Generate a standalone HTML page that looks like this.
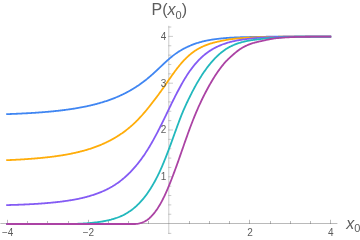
<!DOCTYPE html>
<html><head><meta charset="utf-8"><title>P(x0)</title>
<style>html,body{margin:0;padding:0;background:#fff}svg{display:block}text{font-family:"Liberation Sans",sans-serif;fill:#5c5c5c}</style></head><body>
<svg width="360" height="240" viewBox="0 0 360 240">
<rect width="360" height="240" fill="#fff"/>
<g stroke="#666" stroke-width="1" fill="none" stroke-opacity="0.45" shape-rendering="auto">
<line x1="0.4" y1="223.50" x2="337.4" y2="223.50"/>
<line x1="168.80" y1="25.8" x2="168.80" y2="234.0" stroke-width="0.75"/>
<line x1="7.50" y1="224.00" x2="7.50" y2="219.80"/>
<line x1="27.50" y1="224.00" x2="27.50" y2="221.00"/>
<line x1="47.50" y1="224.00" x2="47.50" y2="221.00"/>
<line x1="68.50" y1="224.00" x2="68.50" y2="221.00"/>
<line x1="88.50" y1="224.00" x2="88.50" y2="219.80"/>
<line x1="108.50" y1="224.00" x2="108.50" y2="221.00"/>
<line x1="128.50" y1="224.00" x2="128.50" y2="221.00"/>
<line x1="148.50" y1="224.00" x2="148.50" y2="221.00"/>
<line x1="189.50" y1="224.00" x2="189.50" y2="221.00"/>
<line x1="209.50" y1="224.00" x2="209.50" y2="221.00"/>
<line x1="229.50" y1="224.00" x2="229.50" y2="221.00"/>
<line x1="249.50" y1="224.00" x2="249.50" y2="219.80"/>
<line x1="270.50" y1="224.00" x2="270.50" y2="221.00"/>
<line x1="290.50" y1="224.00" x2="290.50" y2="221.00"/>
<line x1="310.50" y1="224.00" x2="310.50" y2="221.00"/>
<line x1="330.50" y1="224.00" x2="330.50" y2="219.80"/>
<line x1="168.40" y1="233.40" x2="171.30" y2="233.40" stroke-width="0.75"/>
<line x1="168.40" y1="214.24" x2="171.30" y2="214.24" stroke-width="0.75"/>
<line x1="168.40" y1="204.88" x2="171.30" y2="204.88" stroke-width="0.75"/>
<line x1="168.40" y1="195.52" x2="171.30" y2="195.52" stroke-width="0.75"/>
<line x1="168.40" y1="186.16" x2="171.30" y2="186.16" stroke-width="0.75"/>
<line x1="168.40" y1="176.80" x2="173.00" y2="176.80" stroke-width="0.75"/>
<line x1="168.40" y1="167.44" x2="171.30" y2="167.44" stroke-width="0.75"/>
<line x1="168.40" y1="158.08" x2="171.30" y2="158.08" stroke-width="0.75"/>
<line x1="168.40" y1="148.72" x2="171.30" y2="148.72" stroke-width="0.75"/>
<line x1="168.40" y1="139.36" x2="171.30" y2="139.36" stroke-width="0.75"/>
<line x1="168.40" y1="130.00" x2="173.00" y2="130.00" stroke-width="0.75"/>
<line x1="168.40" y1="120.64" x2="171.30" y2="120.64" stroke-width="0.75"/>
<line x1="168.40" y1="111.28" x2="171.30" y2="111.28" stroke-width="0.75"/>
<line x1="168.40" y1="101.92" x2="171.30" y2="101.92" stroke-width="0.75"/>
<line x1="168.40" y1="92.56" x2="171.30" y2="92.56" stroke-width="0.75"/>
<line x1="168.40" y1="83.20" x2="173.00" y2="83.20" stroke-width="0.75"/>
<line x1="168.40" y1="73.84" x2="171.30" y2="73.84" stroke-width="0.75"/>
<line x1="168.40" y1="64.48" x2="171.30" y2="64.48" stroke-width="0.75"/>
<line x1="168.40" y1="55.12" x2="171.30" y2="55.12" stroke-width="0.75"/>
<line x1="168.40" y1="45.76" x2="171.30" y2="45.76" stroke-width="0.75"/>
<line x1="168.40" y1="36.40" x2="173.00" y2="36.40" stroke-width="0.75"/>
<line x1="168.40" y1="27.04" x2="171.30" y2="27.04" stroke-width="0.75"/>
</g>
<path d="M7.10 114.13 L7.77 114.10 L8.45 114.08 L9.12 114.05 L9.80 114.03 L10.47 114.00 L11.15 113.98 L11.82 113.95 L12.50 113.93 L13.17 113.90 L13.85 113.87 L14.52 113.84 L15.20 113.81 L15.87 113.79 L16.55 113.76 L17.22 113.73 L17.90 113.70 L18.57 113.67 L19.25 113.64 L19.92 113.60 L20.59 113.57 L21.27 113.54 L21.94 113.51 L22.62 113.47 L23.29 113.44 L23.97 113.41 L24.64 113.37 L25.32 113.34 L25.99 113.30 L26.67 113.26 L27.34 113.23 L28.02 113.19 L28.69 113.15 L29.37 113.11 L30.04 113.07 L30.72 113.03 L31.39 112.99 L32.07 112.95 L32.74 112.91 L33.41 112.86 L34.09 112.82 L34.76 112.78 L35.44 112.73 L36.11 112.69 L36.79 112.64 L37.46 112.59 L38.14 112.55 L38.81 112.50 L39.49 112.45 L40.16 112.40 L40.84 112.35 L41.51 112.30 L42.19 112.25 L42.86 112.19 L43.54 112.14 L44.21 112.08 L44.89 112.03 L45.56 111.97 L46.23 111.92 L46.91 111.86 L47.58 111.80 L48.26 111.74 L48.93 111.68 L49.61 111.62 L50.28 111.55 L50.96 111.49 L51.63 111.43 L52.31 111.36 L52.98 111.30 L53.66 111.23 L54.33 111.16 L55.01 111.09 L55.68 111.02 L56.36 110.95 L57.03 110.87 L57.71 110.80 L58.38 110.73 L59.05 110.65 L59.73 110.57 L60.40 110.49 L61.08 110.41 L61.75 110.33 L62.43 110.25 L63.10 110.17 L63.78 110.08 L64.45 110.00 L65.13 109.91 L65.80 109.82 L66.48 109.73 L67.15 109.64 L67.83 109.54 L68.50 109.45 L69.18 109.35 L69.85 109.26 L70.53 109.16 L71.20 109.06 L71.87 108.95 L72.55 108.85 L73.22 108.75 L73.90 108.64 L74.57 108.53 L75.25 108.42 L75.92 108.31 L76.60 108.20 L77.27 108.08 L77.95 107.96 L78.62 107.84 L79.30 107.72 L79.97 107.60 L80.65 107.48 L81.32 107.35 L82.00 107.22 L82.67 107.09 L83.35 106.96 L84.02 106.83 L84.69 106.69 L85.37 106.55 L86.04 106.41 L86.72 106.27 L87.39 106.12 L88.07 105.98 L88.74 105.83 L89.42 105.68 L90.09 105.52 L90.77 105.37 L91.44 105.21 L92.12 105.05 L92.79 104.88 L93.47 104.72 L94.14 104.55 L94.82 104.37 L95.49 104.20 L96.17 104.02 L96.84 103.84 L97.52 103.66 L98.19 103.48 L98.86 103.29 L99.54 103.10 L100.21 102.91 L100.89 102.71 L101.56 102.51 L102.24 102.31 L102.91 102.10 L103.59 101.89 L104.26 101.68 L104.94 101.46 L105.61 101.24 L106.29 101.02 L106.96 100.80 L107.64 100.57 L108.31 100.33 L108.99 100.10 L109.66 99.86 L110.34 99.61 L111.01 99.37 L111.68 99.12 L112.36 98.86 L113.03 98.60 L113.71 98.34 L114.38 98.07 L115.06 97.80 L115.73 97.53 L116.41 97.25 L117.08 96.96 L117.76 96.68 L118.43 96.38 L119.11 96.09 L119.78 95.78 L120.46 95.48 L121.13 95.17 L121.81 94.85 L122.48 94.53 L123.16 94.21 L123.83 93.88 L124.50 93.54 L125.18 93.20 L125.85 92.85 L126.53 92.50 L127.20 92.15 L127.88 91.78 L128.55 91.42 L129.23 91.04 L129.90 90.67 L130.58 90.28 L131.25 89.89 L131.93 89.49 L132.60 89.09 L133.28 88.68 L133.95 88.27 L134.63 87.85 L135.30 87.42 L135.98 86.99 L136.65 86.55 L137.32 86.10 L138.00 85.65 L138.67 85.19 L139.35 84.73 L140.02 84.25 L140.70 83.77 L141.37 83.29 L142.05 82.79 L142.72 82.29 L143.40 81.79 L144.07 81.27 L144.75 80.75 L145.42 80.22 L146.10 79.69 L146.77 79.14 L147.45 78.60 L148.12 78.04 L148.80 77.48 L149.47 76.91 L150.14 76.33 L150.82 75.74 L151.49 75.16 L152.17 74.56 L152.84 73.96 L153.52 73.35 L154.19 72.74 L154.87 72.13 L155.54 71.51 L156.22 70.88 L156.89 70.25 L157.57 69.62 L158.24 68.99 L158.92 68.35 L159.59 67.71 L160.27 67.07 L160.94 66.43 L161.62 65.79 L162.29 65.15 L162.96 64.51 L163.64 63.88 L164.31 63.25 L164.99 62.62 L165.66 61.99 L166.34 61.37 L167.01 60.76 L167.69 60.15 L168.36 59.56 L169.04 58.97 L169.71 58.38 L170.39 57.81 L171.06 57.25 L171.74 56.70 L172.41 56.16 L173.09 55.63 L173.76 55.11 L174.44 54.61 L175.11 54.11 L175.78 53.63 L176.46 53.15 L177.13 52.69 L177.81 52.24 L178.48 51.80 L179.16 51.37 L179.83 50.96 L180.51 50.55 L181.18 50.15 L181.86 49.76 L182.53 49.38 L183.21 49.01 L183.88 48.65 L184.56 48.29 L185.23 47.95 L185.91 47.61 L186.58 47.28 L187.26 46.96 L187.93 46.65 L188.60 46.34 L189.28 46.05 L189.95 45.76 L190.63 45.47 L191.30 45.20 L191.98 44.93 L192.65 44.67 L193.33 44.41 L194.00 44.16 L194.68 43.92 L195.35 43.68 L196.03 43.45 L196.70 43.23 L197.38 43.01 L198.05 42.80 L198.73 42.59 L199.40 42.39 L200.08 42.20 L200.75 42.01 L201.42 41.83 L202.10 41.65 L202.77 41.48 L203.45 41.32 L204.12 41.16 L204.80 41.00 L205.47 40.85 L206.15 40.71 L206.82 40.57 L207.50 40.43 L208.17 40.30 L208.85 40.18 L209.52 40.06 L210.20 39.94 L210.87 39.83 L211.55 39.72 L212.22 39.61 L212.90 39.51 L213.57 39.41 L214.24 39.32 L214.92 39.22 L215.59 39.14 L216.27 39.05 L216.94 38.97 L217.62 38.88 L218.29 38.81 L218.97 38.73 L219.64 38.65 L220.32 38.58 L220.99 38.51 L221.67 38.44 L222.34 38.38 L223.02 38.31 L223.69 38.25 L224.37 38.19 L225.04 38.13 L225.72 38.07 L226.39 38.02 L227.06 37.97 L227.74 37.92 L228.41 37.87 L229.09 37.82 L229.76 37.77 L230.44 37.73 L231.11 37.69 L231.79 37.65 L232.46 37.61 L233.14 37.57 L233.81 37.54 L234.49 37.51 L235.16 37.48 L235.84 37.45 L236.51 37.42 L237.19 37.39 L237.86 37.37 L238.54 37.34 L239.21 37.32 L239.88 37.29 L240.56 37.27 L241.23 37.25 L241.91 37.23 L242.58 37.21 L243.26 37.19 L243.93 37.17 L244.61 37.15 L245.28 37.13 L245.96 37.11 L246.63 37.10 L247.31 37.08 L247.98 37.06 L248.66 37.05 L249.33 37.03 L250.01 37.02 L250.68 37.00 L251.36 36.99 L252.03 36.98 L252.71 36.96 L253.38 36.95 L254.05 36.94 L254.73 36.93 L255.40 36.92 L256.08 36.91 L256.75 36.90 L257.43 36.89 L258.10 36.88 L258.78 36.87 L259.45 36.86 L260.13 36.85 L260.80 36.84 L261.48 36.83 L262.15 36.82 L262.83 36.81 L263.50 36.81 L264.18 36.80 L264.85 36.79 L265.53 36.78 L266.20 36.77 L266.87 36.77 L267.55 36.76 L268.22 36.75 L268.90 36.74 L269.57 36.74 L270.25 36.73 L270.92 36.72 L271.60 36.71 L272.27 36.71 L272.95 36.70 L273.62 36.69 L274.30 36.69 L274.97 36.68 L275.65 36.68 L276.32 36.67 L277.00 36.66 L277.67 36.66 L278.35 36.65 L279.02 36.65 L279.69 36.64 L280.37 36.64 L281.04 36.64 L281.72 36.63 L282.39 36.63 L283.07 36.62 L283.74 36.62 L284.42 36.62 L285.09 36.61 L285.77 36.61 L286.44 36.61 L287.12 36.61 L287.79 36.61 L288.47 36.61 L289.14 36.60 L289.82 36.60 L290.49 36.60 L291.17 36.60 L291.84 36.60 L292.51 36.60 L293.19 36.60 L293.86 36.60 L294.54 36.60 L295.21 36.60 L295.89 36.60 L296.56 36.60 L297.24 36.60 L297.91 36.60 L298.59 36.60 L299.26 36.60 L299.94 36.60 L300.61 36.60 L301.29 36.60 L301.96 36.60 L302.64 36.60 L303.31 36.60 L303.99 36.60 L304.66 36.60 L305.33 36.60 L306.01 36.60 L306.68 36.60 L307.36 36.60 L308.03 36.60 L308.71 36.60 L309.38 36.60 L310.06 36.60 L310.73 36.60 L311.41 36.60 L312.08 36.60 L312.76 36.60 L313.43 36.60 L314.11 36.60 L314.78 36.60 L315.46 36.60 L316.13 36.60 L316.81 36.60 L317.48 36.60 L318.15 36.60 L318.83 36.60 L319.50 36.60 L320.18 36.60 L320.85 36.60 L321.53 36.60 L322.20 36.60 L322.88 36.60 L323.55 36.60 L324.23 36.60 L324.90 36.60 L325.58 36.60 L326.25 36.60 L326.93 36.60 L327.60 36.60 L328.28 36.60 L328.95 36.60 L329.63 36.60 L330.30 36.60" fill="none" stroke="#4086f2" stroke-width="1.80" stroke-linejoin="round" stroke-linecap="square"/>
<path d="M7.10 160.16 L7.77 160.13 L8.45 160.10 L9.12 160.07 L9.80 160.04 L10.47 160.01 L11.15 159.98 L11.82 159.95 L12.50 159.91 L13.17 159.88 L13.85 159.85 L14.52 159.82 L15.20 159.78 L15.87 159.75 L16.55 159.71 L17.22 159.68 L17.90 159.64 L18.57 159.60 L19.25 159.56 L19.92 159.53 L20.59 159.49 L21.27 159.45 L21.94 159.41 L22.62 159.37 L23.29 159.33 L23.97 159.28 L24.64 159.24 L25.32 159.20 L25.99 159.15 L26.67 159.11 L27.34 159.06 L28.02 159.01 L28.69 158.97 L29.37 158.92 L30.04 158.87 L30.72 158.82 L31.39 158.77 L32.07 158.72 L32.74 158.66 L33.41 158.61 L34.09 158.56 L34.76 158.50 L35.44 158.45 L36.11 158.39 L36.79 158.33 L37.46 158.27 L38.14 158.21 L38.81 158.15 L39.49 158.09 L40.16 158.03 L40.84 157.96 L41.51 157.90 L42.19 157.83 L42.86 157.76 L43.54 157.70 L44.21 157.63 L44.89 157.56 L45.56 157.48 L46.23 157.41 L46.91 157.34 L47.58 157.26 L48.26 157.18 L48.93 157.11 L49.61 157.03 L50.28 156.94 L50.96 156.86 L51.63 156.78 L52.31 156.69 L52.98 156.61 L53.66 156.52 L54.33 156.43 L55.01 156.34 L55.68 156.25 L56.36 156.15 L57.03 156.06 L57.71 155.96 L58.38 155.86 L59.05 155.76 L59.73 155.66 L60.40 155.56 L61.08 155.45 L61.75 155.34 L62.43 155.24 L63.10 155.12 L63.78 155.01 L64.45 154.90 L65.13 154.78 L65.80 154.66 L66.48 154.54 L67.15 154.42 L67.83 154.30 L68.50 154.17 L69.18 154.04 L69.85 153.91 L70.53 153.78 L71.20 153.64 L71.87 153.50 L72.55 153.36 L73.22 153.22 L73.90 153.08 L74.57 152.93 L75.25 152.78 L75.92 152.63 L76.60 152.47 L77.27 152.32 L77.95 152.16 L78.62 152.00 L79.30 151.83 L79.97 151.66 L80.65 151.49 L81.32 151.32 L82.00 151.14 L82.67 150.96 L83.35 150.78 L84.02 150.59 L84.69 150.41 L85.37 150.21 L86.04 150.02 L86.72 149.82 L87.39 149.62 L88.07 149.42 L88.74 149.21 L89.42 149.00 L90.09 148.78 L90.77 148.56 L91.44 148.34 L92.12 148.11 L92.79 147.88 L93.47 147.65 L94.14 147.41 L94.82 147.17 L95.49 146.92 L96.17 146.67 L96.84 146.42 L97.52 146.16 L98.19 145.90 L98.86 145.63 L99.54 145.36 L100.21 145.09 L100.89 144.80 L101.56 144.52 L102.24 144.23 L102.91 143.94 L103.59 143.64 L104.26 143.33 L104.94 143.02 L105.61 142.71 L106.29 142.39 L106.96 142.06 L107.64 141.73 L108.31 141.39 L108.99 141.05 L109.66 140.71 L110.34 140.35 L111.01 139.99 L111.68 139.63 L112.36 139.26 L113.03 138.88 L113.71 138.50 L114.38 138.11 L115.06 137.71 L115.73 137.31 L116.41 136.90 L117.08 136.48 L117.76 136.06 L118.43 135.63 L119.11 135.19 L119.78 134.75 L120.46 134.30 L121.13 133.84 L121.81 133.38 L122.48 132.90 L123.16 132.42 L123.83 131.93 L124.50 131.44 L125.18 130.93 L125.85 130.42 L126.53 129.90 L127.20 129.37 L127.88 128.83 L128.55 128.29 L129.23 127.73 L129.90 127.17 L130.58 126.60 L131.25 126.01 L131.93 125.42 L132.60 124.81 L133.28 124.20 L133.95 123.57 L134.63 122.93 L135.30 122.29 L135.98 121.63 L136.65 120.96 L137.32 120.28 L138.00 119.59 L138.67 118.89 L139.35 118.18 L140.02 117.46 L140.70 116.73 L141.37 115.99 L142.05 115.24 L142.72 114.48 L143.40 113.71 L144.07 112.93 L144.75 112.14 L145.42 111.34 L146.10 110.53 L146.77 109.71 L147.45 108.89 L148.12 108.05 L148.80 107.21 L149.47 106.36 L150.14 105.50 L150.82 104.64 L151.49 103.78 L152.17 102.91 L152.84 102.04 L153.52 101.17 L154.19 100.29 L154.87 99.40 L155.54 98.52 L156.22 97.62 L156.89 96.73 L157.57 95.82 L158.24 94.91 L158.92 94.00 L159.59 93.07 L160.27 92.14 L160.94 91.21 L161.62 90.27 L162.29 89.32 L162.96 88.36 L163.64 87.40 L164.31 86.43 L164.99 85.46 L165.66 84.48 L166.34 83.50 L167.01 82.52 L167.69 81.54 L168.36 80.56 L169.04 79.59 L169.71 78.62 L170.39 77.65 L171.06 76.69 L171.74 75.74 L172.41 74.79 L173.09 73.85 L173.76 72.92 L174.44 72.00 L175.11 71.08 L175.78 70.18 L176.46 69.29 L177.13 68.41 L177.81 67.55 L178.48 66.70 L179.16 65.86 L179.83 65.04 L180.51 64.23 L181.18 63.44 L181.86 62.66 L182.53 61.90 L183.21 61.15 L183.88 60.43 L184.56 59.71 L185.23 59.02 L185.91 58.34 L186.58 57.68 L187.26 57.04 L187.93 56.41 L188.60 55.80 L189.28 55.21 L189.95 54.63 L190.63 54.08 L191.30 53.53 L191.98 53.01 L192.65 52.49 L193.33 52.00 L194.00 51.52 L194.68 51.05 L195.35 50.60 L196.03 50.17 L196.70 49.74 L197.38 49.34 L198.05 48.94 L198.73 48.56 L199.40 48.19 L200.08 47.83 L200.75 47.48 L201.42 47.15 L202.10 46.82 L202.77 46.51 L203.45 46.21 L204.12 45.92 L204.80 45.63 L205.47 45.36 L206.15 45.10 L206.82 44.84 L207.50 44.60 L208.17 44.36 L208.85 44.13 L209.52 43.90 L210.20 43.69 L210.87 43.48 L211.55 43.28 L212.22 43.09 L212.90 42.90 L213.57 42.72 L214.24 42.54 L214.92 42.37 L215.59 42.20 L216.27 42.04 L216.94 41.88 L217.62 41.72 L218.29 41.57 L218.97 41.42 L219.64 41.27 L220.32 41.12 L220.99 40.98 L221.67 40.83 L222.34 40.70 L223.02 40.56 L223.69 40.43 L224.37 40.30 L225.04 40.17 L225.72 40.05 L226.39 39.93 L227.06 39.81 L227.74 39.70 L228.41 39.59 L229.09 39.48 L229.76 39.38 L230.44 39.28 L231.11 39.19 L231.79 39.09 L232.46 39.00 L233.14 38.92 L233.81 38.84 L234.49 38.76 L235.16 38.69 L235.84 38.62 L236.51 38.55 L237.19 38.49 L237.86 38.43 L238.54 38.36 L239.21 38.30 L239.88 38.25 L240.56 38.19 L241.23 38.14 L241.91 38.09 L242.58 38.03 L243.26 37.99 L243.93 37.94 L244.61 37.89 L245.28 37.85 L245.96 37.80 L246.63 37.76 L247.31 37.72 L247.98 37.68 L248.66 37.64 L249.33 37.61 L250.01 37.57 L250.68 37.54 L251.36 37.50 L252.03 37.47 L252.71 37.44 L253.38 37.41 L254.05 37.38 L254.73 37.35 L255.40 37.33 L256.08 37.30 L256.75 37.28 L257.43 37.25 L258.10 37.23 L258.78 37.21 L259.45 37.18 L260.13 37.16 L260.80 37.14 L261.48 37.12 L262.15 37.10 L262.83 37.09 L263.50 37.07 L264.18 37.05 L264.85 37.03 L265.53 37.02 L266.20 37.00 L266.87 36.98 L267.55 36.97 L268.22 36.95 L268.90 36.94 L269.57 36.92 L270.25 36.91 L270.92 36.90 L271.60 36.88 L272.27 36.87 L272.95 36.86 L273.62 36.84 L274.30 36.83 L274.97 36.82 L275.65 36.81 L276.32 36.80 L277.00 36.79 L277.67 36.78 L278.35 36.77 L279.02 36.76 L279.69 36.75 L280.37 36.74 L281.04 36.74 L281.72 36.73 L282.39 36.72 L283.07 36.71 L283.74 36.71 L284.42 36.70 L285.09 36.70 L285.77 36.69 L286.44 36.69 L287.12 36.68 L287.79 36.68 L288.47 36.67 L289.14 36.67 L289.82 36.67 L290.49 36.66 L291.17 36.66 L291.84 36.66 L292.51 36.66 L293.19 36.66 L293.86 36.65 L294.54 36.65 L295.21 36.65 L295.89 36.65 L296.56 36.65 L297.24 36.64 L297.91 36.64 L298.59 36.64 L299.26 36.64 L299.94 36.64 L300.61 36.64 L301.29 36.63 L301.96 36.63 L302.64 36.63 L303.31 36.63 L303.99 36.63 L304.66 36.63 L305.33 36.63 L306.01 36.63 L306.68 36.63 L307.36 36.62 L308.03 36.62 L308.71 36.62 L309.38 36.62 L310.06 36.62 L310.73 36.62 L311.41 36.62 L312.08 36.62 L312.76 36.62 L313.43 36.62 L314.11 36.62 L314.78 36.62 L315.46 36.62 L316.13 36.61 L316.81 36.61 L317.48 36.61 L318.15 36.61 L318.83 36.61 L319.50 36.61 L320.18 36.61 L320.85 36.61 L321.53 36.61 L322.20 36.61 L322.88 36.61 L323.55 36.61 L324.23 36.61 L324.90 36.61 L325.58 36.61 L326.25 36.61 L326.93 36.61 L327.60 36.61 L328.28 36.61 L328.95 36.61 L329.63 36.61 L330.30 36.61" fill="none" stroke="#ffad0a" stroke-width="1.80" stroke-linejoin="round" stroke-linecap="square"/>
<path d="M7.10 205.09 L7.77 205.07 L8.45 205.05 L9.12 205.03 L9.80 205.01 L10.47 204.99 L11.15 204.97 L11.82 204.95 L12.50 204.93 L13.17 204.91 L13.85 204.89 L14.52 204.87 L15.20 204.85 L15.87 204.82 L16.55 204.80 L17.22 204.78 L17.90 204.75 L18.57 204.73 L19.25 204.70 L19.92 204.68 L20.59 204.65 L21.27 204.62 L21.94 204.60 L22.62 204.57 L23.29 204.54 L23.97 204.51 L24.64 204.48 L25.32 204.45 L25.99 204.42 L26.67 204.39 L27.34 204.36 L28.02 204.33 L28.69 204.29 L29.37 204.26 L30.04 204.22 L30.72 204.19 L31.39 204.15 L32.07 204.11 L32.74 204.08 L33.41 204.04 L34.09 204.00 L34.76 203.96 L35.44 203.92 L36.11 203.88 L36.79 203.83 L37.46 203.79 L38.14 203.75 L38.81 203.70 L39.49 203.66 L40.16 203.61 L40.84 203.56 L41.51 203.51 L42.19 203.46 L42.86 203.41 L43.54 203.36 L44.21 203.31 L44.89 203.25 L45.56 203.20 L46.23 203.14 L46.91 203.08 L47.58 203.02 L48.26 202.96 L48.93 202.90 L49.61 202.84 L50.28 202.78 L50.96 202.71 L51.63 202.65 L52.31 202.58 L52.98 202.51 L53.66 202.44 L54.33 202.37 L55.01 202.30 L55.68 202.23 L56.36 202.16 L57.03 202.08 L57.71 202.01 L58.38 201.93 L59.05 201.85 L59.73 201.77 L60.40 201.69 L61.08 201.61 L61.75 201.52 L62.43 201.44 L63.10 201.35 L63.78 201.26 L64.45 201.17 L65.13 201.08 L65.80 200.98 L66.48 200.89 L67.15 200.79 L67.83 200.69 L68.50 200.58 L69.18 200.48 L69.85 200.37 L70.53 200.26 L71.20 200.15 L71.87 200.04 L72.55 199.92 L73.22 199.81 L73.90 199.69 L74.57 199.56 L75.25 199.44 L75.92 199.31 L76.60 199.18 L77.27 199.04 L77.95 198.91 L78.62 198.77 L79.30 198.62 L79.97 198.48 L80.65 198.33 L81.32 198.18 L82.00 198.02 L82.67 197.86 L83.35 197.70 L84.02 197.54 L84.69 197.37 L85.37 197.20 L86.04 197.02 L86.72 196.84 L87.39 196.66 L88.07 196.47 L88.74 196.28 L89.42 196.08 L90.09 195.88 L90.77 195.68 L91.44 195.47 L92.12 195.26 L92.79 195.04 L93.47 194.82 L94.14 194.60 L94.82 194.37 L95.49 194.14 L96.17 193.90 L96.84 193.66 L97.52 193.42 L98.19 193.16 L98.86 192.91 L99.54 192.65 L100.21 192.38 L100.89 192.10 L101.56 191.82 L102.24 191.54 L102.91 191.25 L103.59 190.95 L104.26 190.65 L104.94 190.33 L105.61 190.02 L106.29 189.69 L106.96 189.36 L107.64 189.02 L108.31 188.67 L108.99 188.32 L109.66 187.95 L110.34 187.58 L111.01 187.20 L111.68 186.81 L112.36 186.42 L113.03 186.01 L113.71 185.60 L114.38 185.17 L115.06 184.74 L115.73 184.29 L116.41 183.84 L117.08 183.37 L117.76 182.90 L118.43 182.42 L119.11 181.92 L119.78 181.42 L120.46 180.90 L121.13 180.38 L121.81 179.84 L122.48 179.29 L123.16 178.73 L123.83 178.17 L124.50 177.58 L125.18 176.99 L125.85 176.39 L126.53 175.77 L127.20 175.15 L127.88 174.51 L128.55 173.86 L129.23 173.19 L129.90 172.52 L130.58 171.83 L131.25 171.13 L131.93 170.41 L132.60 169.69 L133.28 168.95 L133.95 168.19 L134.63 167.42 L135.30 166.64 L135.98 165.85 L136.65 165.04 L137.32 164.22 L138.00 163.38 L138.67 162.53 L139.35 161.66 L140.02 160.78 L140.70 159.89 L141.37 158.97 L142.05 158.04 L142.72 157.09 L143.40 156.13 L144.07 155.15 L144.75 154.15 L145.42 153.13 L146.10 152.10 L146.77 151.04 L147.45 149.98 L148.12 148.89 L148.80 147.79 L149.47 146.67 L150.14 145.54 L150.82 144.39 L151.49 143.22 L152.17 142.04 L152.84 140.84 L153.52 139.63 L154.19 138.40 L154.87 137.16 L155.54 135.90 L156.22 134.63 L156.89 133.35 L157.57 132.05 L158.24 130.74 L158.92 129.42 L159.59 128.09 L160.27 126.75 L160.94 125.40 L161.62 124.05 L162.29 122.68 L162.96 121.31 L163.64 119.94 L164.31 118.56 L164.99 117.17 L165.66 115.78 L166.34 114.39 L167.01 112.99 L167.69 111.59 L168.36 110.19 L169.04 108.79 L169.71 107.39 L170.39 105.99 L171.06 104.60 L171.74 103.22 L172.41 101.84 L173.09 100.48 L173.76 99.13 L174.44 97.79 L175.11 96.45 L175.78 95.13 L176.46 93.82 L177.13 92.53 L177.81 91.24 L178.48 89.96 L179.16 88.70 L179.83 87.45 L180.51 86.20 L181.18 84.98 L181.86 83.78 L182.53 82.59 L183.21 81.42 L183.88 80.27 L184.56 79.15 L185.23 78.04 L185.91 76.95 L186.58 75.89 L187.26 74.84 L187.93 73.81 L188.60 72.81 L189.28 71.83 L189.95 70.86 L190.63 69.92 L191.30 69.00 L191.98 68.10 L192.65 67.22 L193.33 66.36 L194.00 65.51 L194.68 64.69 L195.35 63.89 L196.03 63.11 L196.70 62.34 L197.38 61.60 L198.05 60.87 L198.73 60.16 L199.40 59.47 L200.08 58.80 L200.75 58.14 L201.42 57.50 L202.10 56.88 L202.77 56.28 L203.45 55.69 L204.12 55.11 L204.80 54.56 L205.47 54.01 L206.15 53.49 L206.82 52.97 L207.50 52.48 L208.17 51.99 L208.85 51.52 L209.52 51.06 L210.20 50.62 L210.87 50.19 L211.55 49.77 L212.22 49.36 L212.90 48.97 L213.57 48.59 L214.24 48.21 L214.92 47.85 L215.59 47.50 L216.27 47.16 L216.94 46.83 L217.62 46.51 L218.29 46.20 L218.97 45.90 L219.64 45.61 L220.32 45.32 L220.99 45.05 L221.67 44.78 L222.34 44.52 L223.02 44.27 L223.69 44.02 L224.37 43.79 L225.04 43.56 L225.72 43.33 L226.39 43.12 L227.06 42.91 L227.74 42.71 L228.41 42.51 L229.09 42.32 L229.76 42.14 L230.44 41.96 L231.11 41.79 L231.79 41.62 L232.46 41.46 L233.14 41.31 L233.81 41.16 L234.49 41.02 L235.16 40.88 L235.84 40.74 L236.51 40.61 L237.19 40.48 L237.86 40.36 L238.54 40.24 L239.21 40.12 L239.88 40.00 L240.56 39.89 L241.23 39.78 L241.91 39.68 L242.58 39.58 L243.26 39.48 L243.93 39.38 L244.61 39.28 L245.28 39.19 L245.96 39.10 L246.63 39.02 L247.31 38.93 L247.98 38.85 L248.66 38.77 L249.33 38.70 L250.01 38.62 L250.68 38.55 L251.36 38.48 L252.03 38.42 L252.71 38.35 L253.38 38.29 L254.05 38.23 L254.73 38.18 L255.40 38.12 L256.08 38.07 L256.75 38.02 L257.43 37.96 L258.10 37.91 L258.78 37.86 L259.45 37.82 L260.13 37.77 L260.80 37.72 L261.48 37.68 L262.15 37.63 L262.83 37.59 L263.50 37.55 L264.18 37.51 L264.85 37.47 L265.53 37.43 L266.20 37.39 L266.87 37.35 L267.55 37.32 L268.22 37.28 L268.90 37.25 L269.57 37.21 L270.25 37.18 L270.92 37.15 L271.60 37.12 L272.27 37.09 L272.95 37.06 L273.62 37.03 L274.30 37.01 L274.97 36.98 L275.65 36.96 L276.32 36.94 L277.00 36.91 L277.67 36.89 L278.35 36.87 L279.02 36.86 L279.69 36.84 L280.37 36.82 L281.04 36.81 L281.72 36.79 L282.39 36.78 L283.07 36.77 L283.74 36.76 L284.42 36.75 L285.09 36.75 L285.77 36.74 L286.44 36.73 L287.12 36.73 L287.79 36.72 L288.47 36.72 L289.14 36.71 L289.82 36.71 L290.49 36.70 L291.17 36.70 L291.84 36.70 L292.51 36.69 L293.19 36.69 L293.86 36.68 L294.54 36.68 L295.21 36.68 L295.89 36.67 L296.56 36.67 L297.24 36.67 L297.91 36.67 L298.59 36.66 L299.26 36.66 L299.94 36.66 L300.61 36.66 L301.29 36.65 L301.96 36.65 L302.64 36.65 L303.31 36.65 L303.99 36.64 L304.66 36.64 L305.33 36.64 L306.01 36.64 L306.68 36.64 L307.36 36.64 L308.03 36.63 L308.71 36.63 L309.38 36.63 L310.06 36.63 L310.73 36.63 L311.41 36.63 L312.08 36.63 L312.76 36.63 L313.43 36.62 L314.11 36.62 L314.78 36.62 L315.46 36.62 L316.13 36.62 L316.81 36.62 L317.48 36.62 L318.15 36.62 L318.83 36.62 L319.50 36.62 L320.18 36.62 L320.85 36.62 L321.53 36.61 L322.20 36.61 L322.88 36.61 L323.55 36.61 L324.23 36.61 L324.90 36.61 L325.58 36.61 L326.25 36.61 L326.93 36.61 L327.60 36.61 L328.28 36.61 L328.95 36.61 L329.63 36.61 L330.30 36.61" fill="none" stroke="#845bf4" stroke-width="1.80" stroke-linejoin="round" stroke-linecap="square"/>
<path d="M7.10 224.00 L7.77 224.00 L8.45 224.00 L9.12 224.00 L9.80 224.00 L10.47 224.00 L11.15 224.00 L11.82 224.00 L12.50 224.00 L13.17 224.00 L13.85 224.00 L14.52 224.00 L15.20 224.00 L15.87 224.00 L16.55 224.00 L17.22 224.00 L17.90 224.00 L18.57 224.00 L19.25 224.00 L19.92 224.00 L20.59 224.00 L21.27 224.00 L21.94 224.00 L22.62 224.00 L23.29 224.00 L23.97 224.00 L24.64 224.00 L25.32 224.00 L25.99 224.00 L26.67 224.00 L27.34 224.00 L28.02 224.00 L28.69 224.00 L29.37 224.00 L30.04 224.00 L30.72 224.00 L31.39 224.00 L32.07 224.00 L32.74 224.00 L33.41 224.00 L34.09 224.00 L34.76 224.00 L35.44 224.00 L36.11 224.00 L36.79 224.00 L37.46 224.00 L38.14 224.00 L38.81 224.00 L39.49 224.00 L40.16 224.00 L40.84 224.00 L41.51 224.00 L42.19 224.00 L42.86 224.00 L43.54 224.00 L44.21 224.00 L44.89 224.00 L45.56 224.00 L46.23 224.00 L46.91 224.00 L47.58 224.00 L48.26 224.00 L48.93 224.00 L49.61 224.00 L50.28 224.00 L50.96 224.00 L51.63 224.00 L52.31 224.00 L52.98 224.00 L53.66 224.00 L54.33 224.00 L55.01 224.00 L55.68 224.00 L56.36 224.00 L57.03 224.00 L57.71 224.00 L58.38 224.00 L59.05 224.00 L59.73 224.00 L60.40 224.00 L61.08 224.00 L61.75 224.00 L62.43 224.00 L63.10 224.00 L63.78 224.00 L64.45 224.00 L65.13 224.00 L65.80 224.00 L66.48 223.99 L67.15 223.99 L67.83 223.99 L68.50 223.98 L69.18 223.97 L69.85 223.97 L70.53 223.96 L71.20 223.95 L71.87 223.93 L72.55 223.92 L73.22 223.91 L73.90 223.89 L74.57 223.88 L75.25 223.86 L75.92 223.84 L76.60 223.82 L77.27 223.79 L77.95 223.77 L78.62 223.74 L79.30 223.72 L79.97 223.69 L80.65 223.66 L81.32 223.62 L82.00 223.59 L82.67 223.55 L83.35 223.51 L84.02 223.47 L84.69 223.43 L85.37 223.38 L86.04 223.33 L86.72 223.28 L87.39 223.23 L88.07 223.18 L88.74 223.12 L89.42 223.06 L90.09 223.00 L90.77 222.93 L91.44 222.86 L92.12 222.80 L92.79 222.73 L93.47 222.66 L94.14 222.58 L94.82 222.51 L95.49 222.43 L96.17 222.35 L96.84 222.27 L97.52 222.18 L98.19 222.09 L98.86 222.00 L99.54 221.90 L100.21 221.81 L100.89 221.70 L101.56 221.60 L102.24 221.49 L102.91 221.37 L103.59 221.25 L104.26 221.13 L104.94 221.00 L105.61 220.87 L106.29 220.73 L106.96 220.58 L107.64 220.43 L108.31 220.28 L108.99 220.12 L109.66 219.95 L110.34 219.77 L111.01 219.60 L111.68 219.41 L112.36 219.23 L113.03 219.04 L113.71 218.84 L114.38 218.64 L115.06 218.43 L115.73 218.21 L116.41 217.99 L117.08 217.75 L117.76 217.51 L118.43 217.26 L119.11 217.00 L119.78 216.73 L120.46 216.45 L121.13 216.16 L121.81 215.85 L122.48 215.53 L123.16 215.20 L123.83 214.86 L124.50 214.50 L125.18 214.12 L125.85 213.74 L126.53 213.34 L127.20 212.93 L127.88 212.50 L128.55 212.07 L129.23 211.62 L129.90 211.16 L130.58 210.68 L131.25 210.19 L131.93 209.69 L132.60 209.17 L133.28 208.64 L133.95 208.09 L134.63 207.53 L135.30 206.95 L135.98 206.36 L136.65 205.75 L137.32 205.12 L138.00 204.47 L138.67 203.81 L139.35 203.13 L140.02 202.43 L140.70 201.70 L141.37 200.96 L142.05 200.19 L142.72 199.40 L143.40 198.59 L144.07 197.76 L144.75 196.90 L145.42 196.02 L146.10 195.12 L146.77 194.19 L147.45 193.24 L148.12 192.27 L148.80 191.28 L149.47 190.26 L150.14 189.22 L150.82 188.16 L151.49 187.07 L152.17 185.96 L152.84 184.82 L153.52 183.65 L154.19 182.45 L154.87 181.23 L155.54 179.98 L156.22 178.69 L156.89 177.38 L157.57 176.04 L158.24 174.67 L158.92 173.27 L159.59 171.84 L160.27 170.38 L160.94 168.89 L161.62 167.36 L162.29 165.80 L162.96 164.21 L163.64 162.60 L164.31 160.95 L164.99 159.28 L165.66 157.58 L166.34 155.86 L167.01 154.12 L167.69 152.36 L168.36 150.58 L169.04 148.78 L169.71 146.97 L170.39 145.15 L171.06 143.32 L171.74 141.48 L172.41 139.63 L173.09 137.77 L173.76 135.91 L174.44 134.04 L175.11 132.18 L175.78 130.32 L176.46 128.47 L177.13 126.63 L177.81 124.79 L178.48 122.97 L179.16 121.17 L179.83 119.38 L180.51 117.61 L181.18 115.89 L181.86 114.20 L182.53 112.56 L183.21 110.95 L183.88 109.38 L184.56 107.84 L185.23 106.34 L185.91 104.86 L186.58 103.41 L187.26 101.99 L187.93 100.59 L188.60 99.20 L189.28 97.84 L189.95 96.48 L190.63 95.14 L191.30 93.80 L191.98 92.46 L192.65 91.14 L193.33 89.84 L194.00 88.56 L194.68 87.30 L195.35 86.07 L196.03 84.86 L196.70 83.67 L197.38 82.49 L198.05 81.34 L198.73 80.21 L199.40 79.10 L200.08 78.00 L200.75 76.93 L201.42 75.87 L202.10 74.83 L202.77 73.81 L203.45 72.81 L204.12 71.82 L204.80 70.86 L205.47 69.91 L206.15 68.97 L206.82 68.06 L207.50 67.16 L208.17 66.28 L208.85 65.42 L209.52 64.58 L210.20 63.75 L210.87 62.94 L211.55 62.15 L212.22 61.37 L212.90 60.61 L213.57 59.87 L214.24 59.14 L214.92 58.43 L215.59 57.74 L216.27 57.06 L216.94 56.40 L217.62 55.75 L218.29 55.12 L218.97 54.51 L219.64 53.92 L220.32 53.34 L220.99 52.78 L221.67 52.23 L222.34 51.70 L223.02 51.19 L223.69 50.69 L224.37 50.21 L225.04 49.75 L225.72 49.30 L226.39 48.86 L227.06 48.44 L227.74 48.04 L228.41 47.65 L229.09 47.27 L229.76 46.91 L230.44 46.56 L231.11 46.22 L231.79 45.89 L232.46 45.58 L233.14 45.27 L233.81 44.98 L234.49 44.70 L235.16 44.43 L235.84 44.16 L236.51 43.91 L237.19 43.67 L237.86 43.43 L238.54 43.21 L239.21 42.99 L239.88 42.78 L240.56 42.57 L241.23 42.37 L241.91 42.19 L242.58 42.00 L243.26 41.83 L243.93 41.66 L244.61 41.50 L245.28 41.35 L245.96 41.20 L246.63 41.06 L247.31 40.92 L247.98 40.79 L248.66 40.67 L249.33 40.55 L250.01 40.43 L250.68 40.32 L251.36 40.22 L252.03 40.12 L252.71 40.02 L253.38 39.93 L254.05 39.84 L254.73 39.75 L255.40 39.67 L256.08 39.59 L256.75 39.51 L257.43 39.42 L258.10 39.34 L258.78 39.26 L259.45 39.17 L260.13 39.09 L260.80 39.01 L261.48 38.93 L262.15 38.85 L262.83 38.77 L263.50 38.69 L264.18 38.62 L264.85 38.54 L265.53 38.47 L266.20 38.40 L266.87 38.33 L267.55 38.27 L268.22 38.21 L268.90 38.15 L269.57 38.10 L270.25 38.05 L270.92 38.00 L271.60 37.95 L272.27 37.90 L272.95 37.85 L273.62 37.80 L274.30 37.76 L274.97 37.71 L275.65 37.67 L276.32 37.62 L277.00 37.58 L277.67 37.54 L278.35 37.49 L279.02 37.45 L279.69 37.41 L280.37 37.37 L281.04 37.34 L281.72 37.30 L282.39 37.26 L283.07 37.22 L283.74 37.19 L284.42 37.16 L285.09 37.12 L285.77 37.09 L286.44 37.06 L287.12 37.03 L287.79 37.00 L288.47 36.97 L289.14 36.94 L289.82 36.92 L290.49 36.89 L291.17 36.87 L291.84 36.85 L292.51 36.83 L293.19 36.81 L293.86 36.79 L294.54 36.77 L295.21 36.75 L295.89 36.74 L296.56 36.73 L297.24 36.72 L297.91 36.71 L298.59 36.70 L299.26 36.69 L299.94 36.69 L300.61 36.68 L301.29 36.68 L301.96 36.67 L302.64 36.67 L303.31 36.67 L303.99 36.67 L304.66 36.66 L305.33 36.66 L306.01 36.66 L306.68 36.65 L307.36 36.65 L308.03 36.65 L308.71 36.65 L309.38 36.65 L310.06 36.64 L310.73 36.64 L311.41 36.64 L312.08 36.64 L312.76 36.64 L313.43 36.63 L314.11 36.63 L314.78 36.63 L315.46 36.63 L316.13 36.63 L316.81 36.63 L317.48 36.63 L318.15 36.62 L318.83 36.62 L319.50 36.62 L320.18 36.62 L320.85 36.62 L321.53 36.62 L322.20 36.62 L322.88 36.62 L323.55 36.62 L324.23 36.62 L324.90 36.62 L325.58 36.61 L326.25 36.61 L326.93 36.61 L327.60 36.61 L328.28 36.61 L328.95 36.61 L329.63 36.61 L330.30 36.61" fill="none" stroke="#22b8bd" stroke-width="1.80" stroke-linejoin="round" stroke-linecap="square"/>
<path d="M7.10 224.00 L7.77 224.00 L8.45 224.00 L9.12 224.00 L9.80 224.00 L10.47 224.00 L11.15 224.00 L11.82 224.00 L12.50 224.00 L13.17 224.00 L13.85 224.00 L14.52 224.00 L15.20 224.00 L15.87 224.00 L16.55 224.00 L17.22 224.00 L17.90 224.00 L18.57 224.00 L19.25 224.00 L19.92 224.00 L20.59 224.00 L21.27 224.00 L21.94 224.00 L22.62 224.00 L23.29 224.00 L23.97 224.00 L24.64 224.00 L25.32 224.00 L25.99 224.00 L26.67 224.00 L27.34 224.00 L28.02 224.00 L28.69 224.00 L29.37 224.00 L30.04 224.00 L30.72 224.00 L31.39 224.00 L32.07 224.00 L32.74 224.00 L33.41 224.00 L34.09 224.00 L34.76 224.00 L35.44 224.00 L36.11 224.00 L36.79 224.00 L37.46 224.00 L38.14 224.00 L38.81 224.00 L39.49 224.00 L40.16 224.00 L40.84 224.00 L41.51 224.00 L42.19 224.00 L42.86 224.00 L43.54 224.00 L44.21 224.00 L44.89 224.00 L45.56 224.00 L46.23 224.00 L46.91 224.00 L47.58 224.00 L48.26 224.00 L48.93 224.00 L49.61 224.00 L50.28 224.00 L50.96 224.00 L51.63 224.00 L52.31 224.00 L52.98 224.00 L53.66 224.00 L54.33 224.00 L55.01 224.00 L55.68 224.00 L56.36 224.00 L57.03 224.00 L57.71 224.00 L58.38 224.00 L59.05 224.00 L59.73 224.00 L60.40 224.00 L61.08 224.00 L61.75 224.00 L62.43 224.00 L63.10 224.00 L63.78 224.00 L64.45 224.00 L65.13 224.00 L65.80 224.00 L66.48 224.00 L67.15 224.00 L67.83 224.00 L68.50 224.00 L69.18 224.00 L69.85 224.00 L70.53 224.00 L71.20 224.00 L71.87 224.00 L72.55 224.00 L73.22 224.00 L73.90 224.00 L74.57 224.00 L75.25 224.00 L75.92 224.00 L76.60 224.00 L77.27 224.00 L77.95 224.00 L78.62 224.00 L79.30 224.00 L79.97 224.00 L80.65 224.00 L81.32 224.00 L82.00 224.00 L82.67 224.00 L83.35 224.00 L84.02 224.00 L84.69 224.00 L85.37 224.00 L86.04 224.00 L86.72 224.00 L87.39 224.00 L88.07 224.00 L88.74 224.00 L89.42 224.00 L90.09 224.00 L90.77 224.00 L91.44 224.00 L92.12 224.00 L92.79 224.00 L93.47 224.00 L94.14 224.00 L94.82 224.00 L95.49 224.00 L96.17 224.00 L96.84 224.00 L97.52 224.00 L98.19 224.00 L98.86 224.00 L99.54 224.00 L100.21 224.00 L100.89 224.00 L101.56 224.00 L102.24 224.00 L102.91 224.00 L103.59 224.00 L104.26 224.00 L104.94 224.00 L105.61 224.00 L106.29 224.00 L106.96 224.00 L107.64 224.00 L108.31 224.00 L108.99 224.00 L109.66 224.00 L110.34 224.00 L111.01 224.00 L111.68 224.00 L112.36 224.00 L113.03 224.00 L113.71 224.00 L114.38 224.00 L115.06 224.00 L115.73 224.00 L116.41 224.00 L117.08 224.00 L117.76 224.00 L118.43 224.00 L119.11 224.00 L119.78 224.00 L120.46 224.00 L121.13 224.00 L121.81 224.00 L122.48 224.00 L123.16 224.00 L123.83 224.00 L124.50 224.00 L125.18 224.00 L125.85 224.00 L126.53 224.00 L127.20 224.00 L127.88 224.00 L128.55 224.00 L129.23 224.00 L129.90 224.00 L130.58 224.00 L131.25 224.00 L131.93 224.00 L132.60 224.00 L133.28 224.00 L133.95 224.00 L134.63 224.00 L135.30 223.99 L135.98 223.95 L136.65 223.89 L137.32 223.80 L138.00 223.69 L138.67 223.56 L139.35 223.40 L140.02 223.22 L140.70 223.01 L141.37 222.79 L142.05 222.56 L142.72 222.30 L143.40 222.02 L144.07 221.72 L144.75 221.39 L145.42 221.03 L146.10 220.64 L146.77 220.21 L147.45 219.75 L148.12 219.25 L148.80 218.71 L149.47 218.12 L150.14 217.50 L150.82 216.85 L151.49 216.16 L152.17 215.44 L152.84 214.69 L153.52 213.90 L154.19 213.07 L154.87 212.21 L155.54 211.32 L156.22 210.39 L156.89 209.42 L157.57 208.42 L158.24 207.38 L158.92 206.30 L159.59 205.19 L160.27 204.05 L160.94 202.86 L161.62 201.62 L162.29 200.35 L162.96 199.03 L163.64 197.67 L164.31 196.27 L164.99 194.84 L165.66 193.36 L166.34 191.86 L167.01 190.32 L167.69 188.74 L168.36 187.14 L169.04 185.51 L169.71 183.85 L170.39 182.17 L171.06 180.47 L171.74 178.74 L172.41 177.00 L173.09 175.23 L173.76 173.44 L174.44 171.63 L175.11 169.81 L175.78 167.96 L176.46 166.10 L177.13 164.22 L177.81 162.33 L178.48 160.43 L179.16 158.52 L179.83 156.60 L180.51 154.67 L181.18 152.74 L181.86 150.80 L182.53 148.87 L183.21 146.93 L183.88 145.00 L184.56 143.07 L185.23 141.15 L185.91 139.23 L186.58 137.33 L187.26 135.44 L187.93 133.57 L188.60 131.71 L189.28 129.88 L189.95 128.06 L190.63 126.26 L191.30 124.48 L191.98 122.73 L192.65 121.00 L193.33 119.29 L194.00 117.60 L194.68 115.94 L195.35 114.31 L196.03 112.70 L196.70 111.11 L197.38 109.55 L198.05 108.01 L198.73 106.49 L199.40 105.00 L200.08 103.53 L200.75 102.08 L201.42 100.65 L202.10 99.25 L202.77 97.86 L203.45 96.50 L204.12 95.15 L204.80 93.83 L205.47 92.52 L206.15 91.23 L206.82 89.96 L207.50 88.70 L208.17 87.47 L208.85 86.25 L209.52 85.05 L210.20 83.87 L210.87 82.70 L211.55 81.56 L212.22 80.43 L212.90 79.31 L213.57 78.22 L214.24 77.14 L214.92 76.08 L215.59 75.04 L216.27 74.02 L216.94 73.02 L217.62 72.03 L218.29 71.06 L218.97 70.11 L219.64 69.18 L220.32 68.27 L220.99 67.38 L221.67 66.50 L222.34 65.65 L223.02 64.81 L223.69 64.00 L224.37 63.20 L225.04 62.43 L225.72 61.70 L226.39 60.98 L227.06 60.29 L227.74 59.62 L228.41 58.96 L229.09 58.32 L229.76 57.69 L230.44 57.06 L231.11 56.45 L231.79 55.83 L232.46 55.22 L233.14 54.62 L233.81 54.03 L234.49 53.46 L235.16 52.89 L235.84 52.34 L236.51 51.80 L237.19 51.27 L237.86 50.76 L238.54 50.26 L239.21 49.78 L239.88 49.31 L240.56 48.86 L241.23 48.42 L241.91 48.00 L242.58 47.59 L243.26 47.20 L243.93 46.83 L244.61 46.48 L245.28 46.15 L245.96 45.82 L246.63 45.51 L247.31 45.22 L247.98 44.93 L248.66 44.66 L249.33 44.39 L250.01 44.14 L250.68 43.90 L251.36 43.66 L252.03 43.44 L252.71 43.22 L253.38 43.01 L254.05 42.81 L254.73 42.62 L255.40 42.44 L256.08 42.26 L256.75 42.09 L257.43 41.92 L258.10 41.76 L258.78 41.61 L259.45 41.46 L260.13 41.32 L260.80 41.17 L261.48 41.03 L262.15 40.88 L262.83 40.73 L263.50 40.57 L264.18 40.42 L264.85 40.27 L265.53 40.12 L266.20 39.97 L266.87 39.82 L267.55 39.67 L268.22 39.53 L268.90 39.39 L269.57 39.25 L270.25 39.12 L270.92 39.00 L271.60 38.87 L272.27 38.76 L272.95 38.65 L273.62 38.55 L274.30 38.46 L274.97 38.38 L275.65 38.31 L276.32 38.23 L277.00 38.16 L277.67 38.09 L278.35 38.03 L279.02 37.96 L279.69 37.90 L280.37 37.84 L281.04 37.78 L281.72 37.72 L282.39 37.67 L283.07 37.62 L283.74 37.57 L284.42 37.52 L285.09 37.47 L285.77 37.43 L286.44 37.38 L287.12 37.34 L287.79 37.30 L288.47 37.26 L289.14 37.23 L289.82 37.19 L290.49 37.16 L291.17 37.12 L291.84 37.09 L292.51 37.07 L293.19 37.04 L293.86 37.01 L294.54 36.99 L295.21 36.97 L295.89 36.94 L296.56 36.92 L297.24 36.91 L297.91 36.89 L298.59 36.88 L299.26 36.86 L299.94 36.85 L300.61 36.84 L301.29 36.83 L301.96 36.82 L302.64 36.81 L303.31 36.80 L303.99 36.79 L304.66 36.78 L305.33 36.77 L306.01 36.77 L306.68 36.76 L307.36 36.75 L308.03 36.75 L308.71 36.74 L309.38 36.73 L310.06 36.73 L310.73 36.72 L311.41 36.72 L312.08 36.71 L312.76 36.71 L313.43 36.70 L314.11 36.70 L314.78 36.69 L315.46 36.69 L316.13 36.69 L316.81 36.68 L317.48 36.68 L318.15 36.68 L318.83 36.67 L319.50 36.67 L320.18 36.67 L320.85 36.66 L321.53 36.66 L322.20 36.66 L322.88 36.66 L323.55 36.65 L324.23 36.65 L324.90 36.65 L325.58 36.65 L326.25 36.64 L326.93 36.64 L327.60 36.64 L328.28 36.64 L328.95 36.64 L329.63 36.64 L330.30 36.63" fill="none" stroke="#ab43a4" stroke-width="1.80" stroke-linejoin="round" stroke-linecap="square"/>
<text x="7.60" y="235.9" font-size="10.0" text-anchor="middle" fill="#666">−4</text>
<text x="88.40" y="235.9" font-size="10.0" text-anchor="middle" fill="#666">−2</text>
<text x="250.00" y="235.9" font-size="10.0" text-anchor="middle" fill="#666">2</text>
<text x="330.80" y="235.9" font-size="10.0" text-anchor="middle" fill="#666">4</text>
<text x="166.2" y="180.00" font-size="10.0" text-anchor="end" fill="#666">1</text>
<text x="166.2" y="133.25" font-size="10.0" text-anchor="end" fill="#666">2</text>
<text x="166.2" y="86.50" font-size="10.0" text-anchor="end" fill="#666">3</text>
<text x="166.2" y="39.75" font-size="10.0" text-anchor="end" fill="#666">4</text>
<text x="151.5" y="14.7" font-size="16">P(<tspan font-style="italic">x</tspan><tspan font-size="11" dy="3.8">0</tspan><tspan dy="-3.8">)</tspan></text>
<text x="346.2" y="228.5" font-size="16"><tspan font-style="italic">x</tspan><tspan font-size="11" dy="3.7">0</tspan></text>
</svg></body></html>
